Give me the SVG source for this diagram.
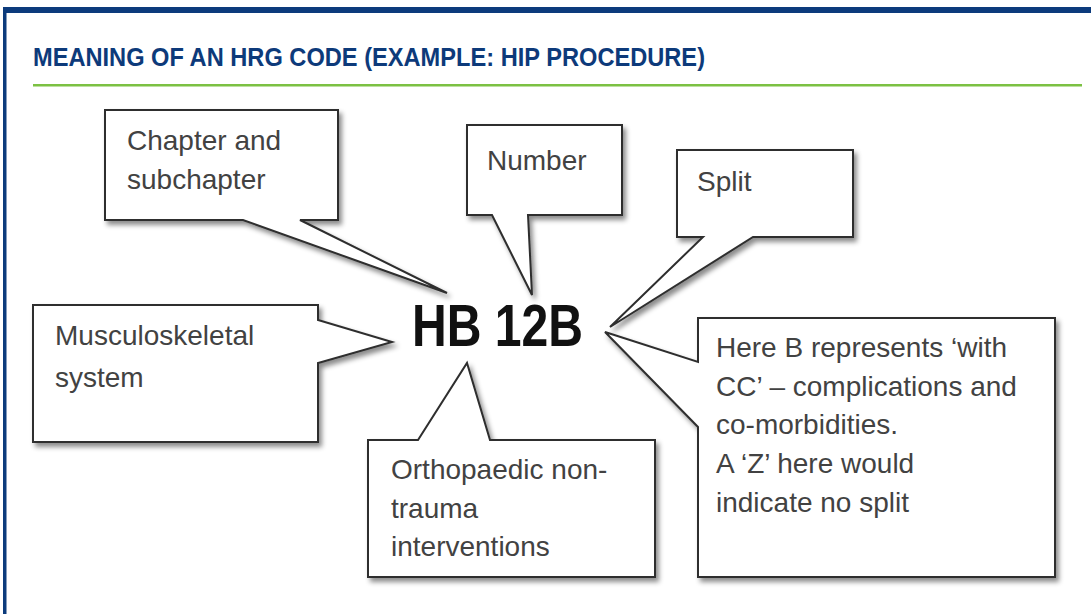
<svg xmlns="http://www.w3.org/2000/svg" width="1091" height="614" viewBox="0 0 1091 614">
<style>
.box{fill:#fff;stroke:#2e2e2e;stroke-width:2;stroke-linejoin:miter;filter:url(#sh)}
.t{font-family:"Liberation Sans",Arial,sans-serif;font-size:28px;fill:#424242}
.title{font-family:"Liberation Sans",Arial,sans-serif;font-weight:bold;font-size:26px;fill:#0d3a7a}
.code{font-family:"Liberation Sans",Arial,sans-serif;font-weight:bold;font-size:60px;fill:#111}
</style>
<defs>
<filter id="sh" x="-10%" y="-10%" width="125%" height="130%">
<feDropShadow dx="3" dy="4" stdDeviation="2.5" flood-color="#000" flood-opacity="0.45"/>
</filter>
</defs>
<rect x="0" y="0" width="1091" height="614" fill="#fff"/>
<g id="frame">
<rect x="3" y="7" width="1088" height="6" fill="#0c3b7c"/>
<rect x="3" y="7" width="3.5" height="607" fill="#0c3b7c"/>
</g>
<g id="title">
<text class="title" x="33" y="66" textLength="672" lengthAdjust="spacingAndGlyphs">MEANING OF AN HRG CODE (EXAMPLE: HIP PROCEDURE)</text>
<rect x="33" y="84" width="1049" height="2.5" fill="#7cc143"/>
</g>
<g id="connectors"></g>
<g id="code">
<text class="code" x="412" y="346" textLength="171" lengthAdjust="spacingAndGlyphs">HB 12B</text>
</g>
<g id="chapter">
<path class="box" d="M105,110 H338 V220 H300 L447,293 L243,220 H105 Z"/>
<text class="t" x="127" y="150">Chapter and</text>
<text class="t" x="127" y="189">subchapter</text>
</g>
<g id="number">
<path class="box" d="M467,125 H622 V215 H528 L532,295 L492,215 H467 Z"/>
<text class="t" x="487" y="170">Number</text>
</g>
<g id="split">
<path class="box" d="M677,150 H853 V237 H753 L610,327 L703,237 H677 Z"/>
<text class="t" x="697" y="191">Split</text>
</g>
<g id="musculoskeletal">
<path class="box" d="M33,305 H318 V320 L392,342 L318,363 V442 H33 Z"/>
<text class="t" x="55" y="345">Musculoskeletal</text>
<text class="t" x="55" y="387">system</text>
</g>
<g id="orthopaedic">
<path class="box" d="M368,440 H418 L467,363 L490,440 H655 V577 H368 Z"/>
<text class="t" x="391" y="479">Orthopaedic non-</text>
<text class="t" x="391" y="518">trauma</text>
<text class="t" x="391" y="556">interventions</text>
</g>
<g id="here-b">
<path class="box" d="M698,318 H1055 V577 H698 V427 L605,332 L698,362 Z"/>
<text class="t" x="716" y="357">Here B represents ‘with</text>
<text class="t" x="716" y="396">CC’ – complications and</text>
<text class="t" x="716" y="434">co-morbidities.</text>
<text class="t" x="716" y="473">A ‘Z’ here would</text>
<text class="t" x="716" y="512">indicate no split</text>
</g>
</svg>
